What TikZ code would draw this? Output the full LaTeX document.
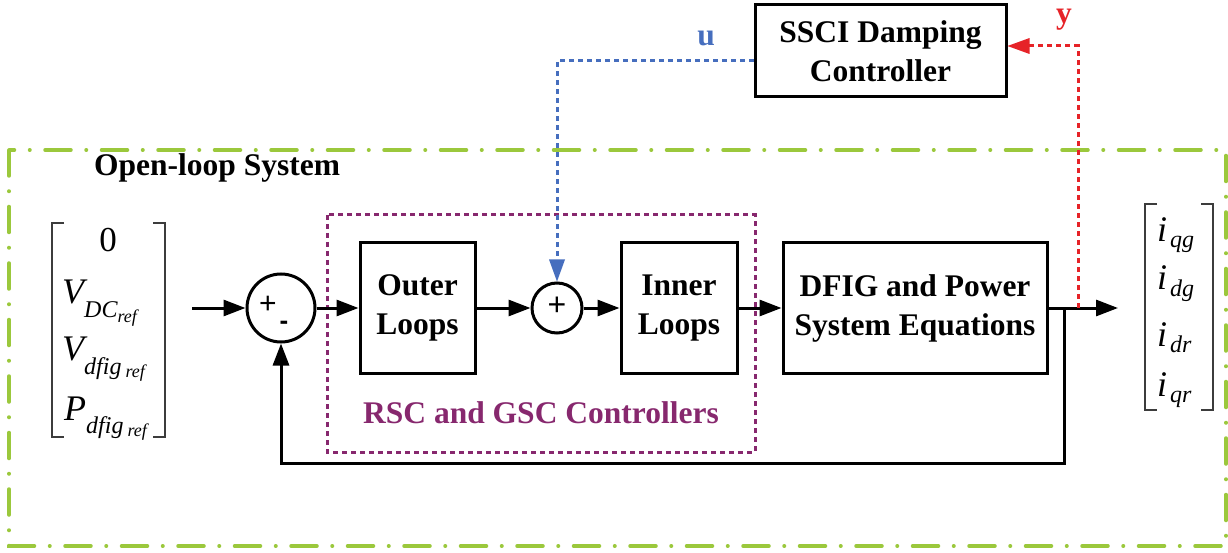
\documentclass[tikz,border=0pt]{standalone}
\usepackage{fontspec}
\setmainfont{Liberation Serif}
\setsansfont{Liberation Sans}
\usetikzlibrary{arrows.meta,calc}
\definecolor{lgreen}{RGB}{155,200,60}
\definecolor{cblue}{RGB}{70,110,190}
\definecolor{cred}{RGB}{230,35,40}
\definecolor{cpurple}{RGB}{135,40,110}
\definecolor{brk}{RGB}{60,60,60}
\newcommand\bigit[1]{\fontsize{36}{36}\selectfont\itshape #1}
\newcommand\subit[1]{\fontsize{24}{24}\selectfont\itshape #1}
\newcommand\ssubit[1]{\fontsize{18}{18}\selectfont\itshape #1}
\begin{document}
\begin{tikzpicture}[x=1pt,y=-1pt,
  blockbox/.style={draw, line width=3pt, align=center, inner sep=0pt,
    font=\fontsize{31.5}{39}\selectfont\bfseries},
  arr/.style={line width=3pt, -{Triangle[length=22pt,width=16pt]}},
  plainline/.style={line width=3pt},
  sumc/.style={circle, draw, line width=3pt, inner sep=0pt},
  greenframe/.style={draw=lgreen, line width=3.5pt, line cap=round,
    dash pattern=on 26pt off 15pt on 0.5pt off 15pt},
  bluedot/.style={draw=cblue, line width=3pt, dash pattern=on 5pt off 4pt},
  reddot/.style={draw=cred, line width=3pt, dash pattern=on 5pt off 4pt},
  purpledot/.style={draw=cpurple, line width=3pt, dash pattern=on 5pt off 4pt},
  bracketline/.style={draw=brk, line width=1.6pt},
  lbl/.style={inner sep=0pt, font=\fontsize{31.5}{36}\selectfont\bfseries}
]
\useasboundingbox (0,0) rectangle (1228,553);

% green open-loop frame
\draw[greenframe] (9,150) rectangle (1226,546);
\node[lbl, anchor=west] (olt) at (94,168) {Open-loop System};

% purple controllers frame
\draw[purpledot] (327,215) rectangle (755,452);
\node[lbl, text=cpurple] (rsc) at (541,413) {RSC and GSC Controllers};

% blocks
\node[blockbox, minimum width=115pt, minimum height=130pt] (outer) at (417.5,308) {Outer\\Loops};
\node[blockbox, minimum width=116pt, minimum height=130pt] (inner) at (679,308) {Inner\\Loops};
\node[blockbox, minimum width=264pt, minimum height=130pt] (dfig) at (915,308) {DFIG and Power\\System Equations};
\node[blockbox, minimum width=251pt, minimum height=92pt] (ssci) at (880.5,51) {SSCI Damping\\Controller};

% summing junctions
\node[sumc, minimum size=68pt] (s1) at (281,308) {};
\node[inner sep=0pt, font=\sffamily\fontsize{30}{30}\selectfont] (s1p) at (268,305) {+};
\node[inner sep=0pt, font=\sffamily\bfseries\fontsize{26}{26}\selectfont] (s1m) at (284,325) {-};
\node[sumc, minimum size=50pt] (s2) at (557,308) {};
\node[inner sep=0pt, font=\sffamily\fontsize{32}{32}\selectfont] (s2p) at (557,306) {+};

% coordinates
\coordinate (inp) at (192,308);
\coordinate (br) at (1064,308);
\coordinate (ry) at (1078,308);
\coordinate (outend) at (1118,308);
\coordinate (fbr) at (1064,463);
\coordinate (rtop) at (1078,46);
\coordinate (bleft) at (557,61);

% main path
\draw[arr] (inp) -- (s1.west);
\draw[arr] (s1.east) -- (outer.west);
\draw[arr] (outer.east) -- (s2.west);
\draw[arr] (s2.east) -- (inner.west);
\draw[arr] (inner.east) -- (dfig.west);
\draw[arr] (dfig.east) -- (outend);
\draw[plainline, line join=miter] (br) -- (fbr) -| ($(s1.south)+(0,12)$);
\draw[arr] ($(s1.south)+(0,24)$) -- (s1.south);

% control loop
\draw[reddot] (ry) -- (rtop) -- ($(ssci.east |- rtop)+(18,0)$);
\draw[draw=none, fill=cred] (ssci.east |- rtop) -- ++(22,-8) -- ++(0,16) -- cycle;
\draw[bluedot] (ssci.west |- bleft) -- (bleft) -- ($(s2.north)+(0,-20)$);
\draw[draw=none, fill=cblue] (s2.north) -- ++(-8,-22) -- ++(16,0) -- cycle;
\node[lbl, text=cblue] (ul) at (706,38) {u};
\node[lbl, text=cred] (yl) at (1064,20) {y};

% left vector
\draw[bracketline] (64,223) -- (52,223) -- (52,437) -- (64,437);
\draw[bracketline] (153,223) -- (165,223) -- (165,437) -- (153,437);
\node[anchor=base, inner sep=0pt] (v0) at (108,252) {\fontsize{35}{35}\selectfont 0};
\node[anchor=base west, inner sep=0pt] (v1) at (62,303) {\bigit{V}\raisebox{-14pt}{\subit{DC}\raisebox{-5pt}{\ssubit{ref}}}};
\node[anchor=base west, inner sep=0pt] (v2) at (62,360) {\bigit{V}\raisebox{-14pt}{\subit{dfig}\,\raisebox{-3pt}{\ssubit{ref}}}};
\node[anchor=base west, inner sep=0pt] (v3) at (64,420) {\bigit{P}\raisebox{-13pt}{\subit{dfig}\,\raisebox{-3pt}{\ssubit{ref}}}};

% right vector
\draw[bracketline] (1157,204) -- (1145,204) -- (1145,410) -- (1157,410);
\draw[bracketline] (1201,204) -- (1213,204) -- (1213,410) -- (1201,410);
\node[anchor=base west, inner sep=0pt] (o1) at (1157,242) {\bigit{i}\hspace{3pt}\raisebox{-6pt}{\subit{qg}}};
\node[anchor=base west, inner sep=0pt] (o2) at (1157,290) {\bigit{i}\hspace{3pt}\raisebox{-6pt}{\subit{dg}}};
\node[anchor=base west, inner sep=0pt] (o3) at (1157,346) {\bigit{i}\hspace{3pt}\raisebox{-6pt}{\subit{dr}}};
\node[anchor=base west, inner sep=0pt] (o4) at (1157,396) {\bigit{i}\hspace{3pt}\raisebox{-6pt}{\subit{qr}}};
\end{tikzpicture}
\end{document}
